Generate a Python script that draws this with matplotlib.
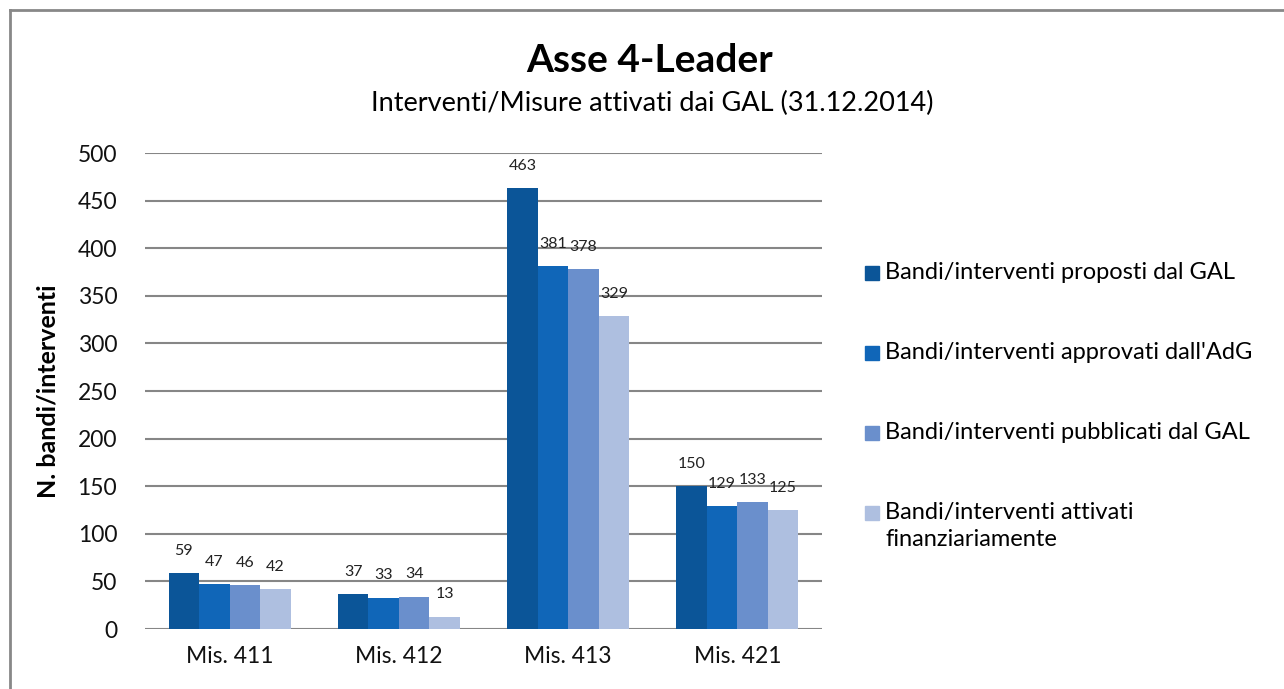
import numpy as np
import matplotlib
matplotlib.use('Agg')
import matplotlib.pyplot as plt
from matplotlib.lines import Line2D
from matplotlib.patches import Rectangle

plt.rcParams['font.family'] = ['Lato', 'DejaVu Sans']

categories = ['Mis. 411', 'Mis. 412', 'Mis. 413', 'Mis. 421']
series_names = ['Bandi/interventi proposti dal GAL',
                "Bandi/interventi approvati dall'AdG",
                'Bandi/interventi pubblicati dal GAL',
                'Bandi/interventi attivati\nfinanziariamente']
proposti = [59, 37, 463, 150]
approvati = [47, 33, 381, 129]
pubblicati = [46, 34, 378, 133]
attivati = [42, 13, 329, 125]
colors = ['#0B5598', '#1066B8', '#6A8FCC', '#AEBFE0']

values = [proposti, approvati, pubblicati, attivati]

W, H = 1284, 689
fig = plt.figure(figsize=(W / 100, H / 100), dpi=100)
ax = fig.add_axes([145 / W, 60 / H, 677 / W, 476 / H])

x = np.arange(len(categories))
w = 0.18
for i, vals in enumerate(values):
    pos = x + (i - 1.5) * w
    ax.bar(pos, vals, width=w, color=colors[i], label=series_names[i], zorder=3)
    for p, v in zip(pos, vals):
        ax.annotate(str(v), (p, v), xytext=(0, 16), textcoords='offset points',
                    ha='center', va='center', fontsize=11.5, color='#222222', zorder=4)

ax.set_xlim(-0.5, len(categories) - 0.5)
ax.set_ylim(0, 500)
ax.set_yticks(range(0, 501, 50))
ax.set_xticks(x)
ax.set_xticklabels(categories)
ax.tick_params(axis='both', length=0, labelsize=16.5, colors='#111111')
ax.tick_params(axis='x', pad=12)
ax.tick_params(axis='y', pad=20)
ax.grid(axis='y', color='#868686', linewidth=1.5, zorder=0)
for s in ax.spines.values():
    s.set_visible(False)
ax.set_ylabel('N. bandi/interventi', fontsize=18, fontweight='bold')
ax.yaxis.set_label_coords(-0.126, 0.5)

fig.text(650 / W, 1 - 60 / H, 'Asse 4-Leader', ha='center', va='center', fontsize=28, fontweight='bold')
fig.text(652 / W, 1 - 103 / H, 'Interventi/Misure attivati dai GAL (31.12.2014)', ha='center', va='center', fontsize=19.5)

# legend
for i, name in enumerate(series_names):
    yc = 273 + 80 * i
    fig.add_artist(Rectangle((865 / W, 1 - (yc + 7) / H), 14 / W, 14 / H,
                             color=colors[i], transform=fig.transFigure))
    fig.text(885 / W, 1 - (yc - 11) / H, name, ha='left', va='top', fontsize=17,
             linespacing=1.35)

# outer frame
fig.add_artist(Line2D([10 / W, 10 / W], [0, 1 - 10 / H], color='#888888', lw=2, transform=fig.transFigure))
fig.add_artist(Line2D([10 / W, 1], [1 - 10 / H, 1 - 10 / H], color='#888888', lw=2, transform=fig.transFigure))

fig.savefig('out.png', dpi=100, facecolor='white')
